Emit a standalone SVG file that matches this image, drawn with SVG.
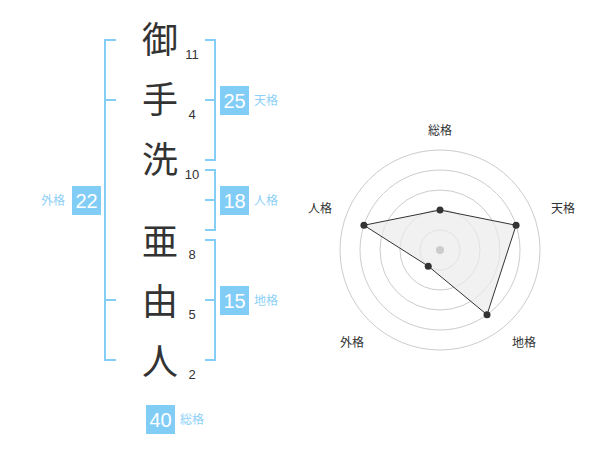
<svg xmlns="http://www.w3.org/2000/svg" width="600" height="470" viewBox="0 0 600 470">
<style>
.ch{font-family:"Noto Sans CJK JP","Noto Sans CJK SC",sans-serif;font-size:36px;fill:#333;text-anchor:middle}
.num{font-family:"Liberation Sans",Arial,sans-serif;font-size:13px;fill:#333;text-anchor:middle}
.box{fill:#81cdf6}
.bt{font-family:"Liberation Sans",Arial,sans-serif;font-size:20px;fill:#fff;text-anchor:middle}
.lb{font-family:"Noto Sans CJK JP","Noto Sans CJK SC",sans-serif;font-size:12px;fill:#8dd0f7}
.br{fill:none;stroke:#84cdf5;stroke-width:2}
.ring{fill:none;stroke:#ccc;stroke-width:1}
.rl{font-family:"Noto Sans CJK JP","Noto Sans CJK SC",sans-serif;font-size:12px;fill:#333;text-anchor:middle}
.pt{fill:#333}
</style>
<g id="name">
<text class="ch" x="160" y="53">御</text>
<text class="ch" x="160" y="113">手</text>
<text class="ch" x="160" y="173">洗</text>
<text class="ch" x="160" y="255">亜</text>
<text class="ch" x="160" y="315">由</text>
<text class="ch" x="160" y="375">人</text>
<text class="num" x="192" y="59">11</text>
<text class="num" x="192" y="119">4</text>
<text class="num" x="192" y="179">10</text>
<text class="num" x="192" y="259">8</text>
<text class="num" x="192" y="319">5</text>
<text class="num" x="192" y="379">2</text>
</g>
<g id="connectors">
<path class="br" d="M116,40 H105 V360 H116 M105,100 H116 M105,300 H116"/>
<path class="br" d="M205,40 H215 V160 H205 M205,100 H215"/>
<path class="br" d="M205,170 H215 V230 H205 M205,200 H215"/>
<path class="br" d="M205,240 H215 V360 H205 M205,300 H215"/>
</g>
<g id="tenkaku">
<rect class="box" x="220" y="86" width="29" height="29"/>
<text class="bt" x="234.5" y="108">25</text>
<text class="lb" x="254" y="105">天格</text>
</g>
<g id="jinkaku">
<rect class="box" x="220" y="186" width="29" height="29"/>
<text class="bt" x="234.5" y="208">18</text>
<text class="lb" x="254" y="205">人格</text>
</g>
<g id="chikaku">
<rect class="box" x="220" y="286" width="29" height="29"/>
<text class="bt" x="234.5" y="308">15</text>
<text class="lb" x="254" y="305">地格</text>
</g>
<g id="gaikaku">
<rect class="box" x="72" y="186" width="29" height="29"/>
<text class="bt" x="86.5" y="208">22</text>
<text class="lb" x="41" y="205">外格</text>
</g>
<g id="soukaku">
<rect class="box" x="146" y="405" width="29" height="29"/>
<text class="bt" x="160.5" y="427">40</text>
<text class="lb" x="180" y="424">総格</text>
</g>
<g id="radar">
<circle class="ring" cx="440" cy="250" r="20"/>
<circle class="ring" cx="440" cy="250" r="40"/>
<circle class="ring" cx="440" cy="250" r="60"/>
<circle class="ring" cx="440" cy="250" r="80"/>
<circle class="ring" cx="440" cy="250" r="100"/>
<polygon points="440,210 516.08,225.28 487.02,314.72 428.24,266.18 363.92,225.28" fill="#ebebeb" fill-opacity="0.7" stroke="#333" stroke-width="1"/>
<circle cx="440" cy="250" r="4" fill="#ccc"/>
<circle class="pt" cx="440" cy="210" r="3.5"/>
<circle class="pt" cx="516.08" cy="225.28" r="3.5"/>
<circle class="pt" cx="487.02" cy="314.72" r="3.5"/>
<circle class="pt" cx="428.24" cy="266.18" r="3.5"/>
<circle class="pt" cx="363.92" cy="225.28" r="3.5"/>
<text class="rl" x="440" y="135">総格</text>
<text class="rl" x="563" y="213">天格</text>
<text class="rl" x="320" y="213">人格</text>
<text class="rl" x="352" y="347">外格</text>
<text class="rl" x="524" y="347">地格</text>
</g>
</svg>
